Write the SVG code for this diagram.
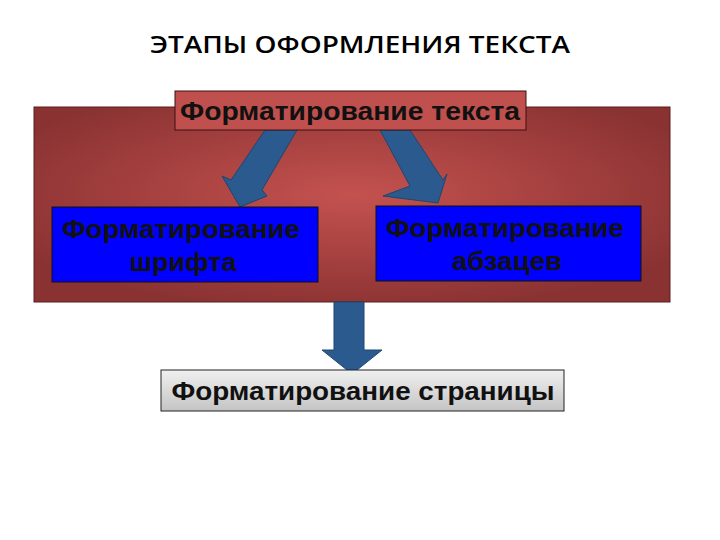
<svg xmlns="http://www.w3.org/2000/svg" width="720" height="540" viewBox="0 0 720 540">
<style>
.t{font-family:"Liberation Sans",Arial,sans-serif;font-weight:bold;fill:#111;text-anchor:middle;font-size:26px}
.arr{fill:#2a5a8e;stroke:#1f4670;stroke-width:1}
</style>
<defs>
<radialGradient id="bg" cx="0.5" cy="0.45" r="0.6">
<stop offset="0" stop-color="#c4524f"/><stop offset="1" stop-color="#8a3232"/>
</radialGradient>
<linearGradient id="gr" x1="0" y1="0" x2="0" y2="1">
<stop offset="0" stop-color="#f0f0f0"/><stop offset="1" stop-color="#c4c4c4"/>
</linearGradient>
</defs>
<rect width="720" height="540" fill="#fff"/>
<text x="360" y="53" font-family="'Open Sans','Liberation Sans',sans-serif" font-size="23" font-weight="600" text-anchor="middle" fill="#000" textLength="420" lengthAdjust="spacingAndGlyphs">ЭТАПЫ ОФОРМЛЕНИЯ ТЕКСТА</text>
<g id="panel"><rect x="34" y="107" width="636" height="195" fill="url(#bg)" stroke="#5a1e1e" stroke-width="1"/></g>
<g id="connectors">
<polygon class="arr" points="265,130 297,130 262,190 267,196 240,207 222,176 231,180"/>
<polygon class="arr" points="380,130 410,130 443,180 447,174 438,203 383,196 410,186"/>
<polygon class="arr" points="334,302 364,302 364,350 382,350 352,374 322,350 334,350"/>
</g>
<g id="n1"><rect x="175" y="91" width="351" height="39" fill="#c0504d" stroke="#3a1010" stroke-width="1"/>
<text class="t" x="350" y="120" textLength="340" lengthAdjust="spacingAndGlyphs">Форматирование текста</text></g>
<g id="n2"><rect x="52" y="207" width="266" height="75" fill="#0000ff" stroke="#111" stroke-width="1"/>
<text class="t" x="181" y="238" textLength="238" lengthAdjust="spacingAndGlyphs">Форматирование</text><text class="t" x="183" y="271" textLength="107" lengthAdjust="spacingAndGlyphs">шрифта</text></g>
<g id="n3"><rect x="376" y="206" width="265" height="75" fill="#0000ff" stroke="#111" stroke-width="1"/>
<text class="t" x="505" y="237" textLength="238" lengthAdjust="spacingAndGlyphs">Форматирование</text><text class="t" x="507" y="270" textLength="110" lengthAdjust="spacingAndGlyphs">абзацев</text></g>
<g id="n4"><rect x="161" y="370" width="403" height="41" fill="url(#gr)" stroke="#222" stroke-width="1"/>
<text class="t" x="363" y="400" textLength="383" lengthAdjust="spacingAndGlyphs">Форматирование страницы</text></g>
</svg>
